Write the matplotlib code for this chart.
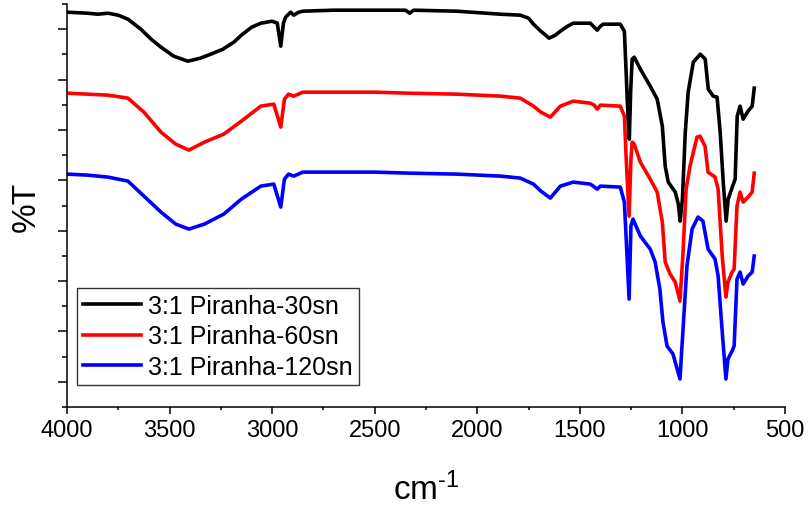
import numpy as np
import matplotlib
matplotlib.use("Agg")
import matplotlib.pyplot as plt
from matplotlib.ticker import MultipleLocator, FixedLocator, NullFormatter

plt.rcParams['font.family'] = ['Liberation Sans', 'DejaVu Sans']
plt.rcParams['mathtext.fontset'] = 'custom'
plt.rcParams['mathtext.rm'] = 'Liberation Sans'
plt.rcParams['mathtext.it'] = 'Liberation Sans:italic'

# FTIR spectra (wavenumber in cm-1, %T in arbitrary offset units)
wn_30 = [4000, 3900, 3850, 3800, 3750, 3703, 3640, 3590, 3542, 3480, 3411, 3350, 3299,
         3240, 3187, 3150, 3100, 3055, 3000, 2975, 2958, 2945, 2934, 2910, 2895, 2870,
         2851, 2700, 2500, 2350, 2330, 2310, 2100, 1887, 1790, 1750, 1726, 1690, 1650,
         1620, 1595, 1560, 1532, 1449, 1425, 1415, 1400, 1386, 1303, 1283, 1274, 1265,
         1259, 1252, 1245, 1235, 1205, 1157, 1123, 1098, 1084, 1069, 1035, 1020, 1011,
         1000, 986, 972, 947, 913, 889, 874, 850, 831, 816, 801, 787, 777, 757, 743,
         733, 719, 704, 680, 660, 650]
t_30 = [395, 394, 393, 394, 392, 388, 378, 368, 360, 351, 346, 349, 353,
        358, 365, 372, 380, 384, 386, 384, 361, 384, 390, 395, 392, 395,
        396, 397, 397, 397, 394, 397, 396, 393, 392, 389, 383, 376, 369,
        372, 376, 381, 384, 384, 379, 377, 381, 383, 383, 376, 333, 288,
        268, 318, 348, 350, 338, 321, 308, 281, 241, 225, 215, 203, 186,
        208, 275, 315, 345, 353, 348, 318, 311, 310, 275, 225, 186, 208, 220, 228,
        291, 301, 288, 296, 301, 319]

wn_60 = [4000, 3900, 3800, 3703, 3625, 3542, 3470, 3406, 3330, 3236, 3150, 3055, 2992,
         2958, 2940, 2920, 2895, 2850, 2700, 2500, 2340, 2100, 1887, 1790, 1726, 1690,
         1644, 1595, 1532, 1449, 1430, 1415, 1400, 1303, 1283, 1274, 1260, 1251, 1245,
         1235, 1205, 1157, 1123, 1098, 1084, 1060, 1035, 1012, 998, 982, 963, 929, 914,
         890, 875, 841, 826, 806, 788, 778, 758, 748, 734, 719, 704, 680, 660, 650]
t_60 = [314, 313, 312, 309, 295, 275, 263, 257, 265, 273, 286, 301, 303,
        280, 308, 313, 311, 315, 315, 315, 314, 313, 311, 309, 301, 295,
        290, 301, 306, 304, 302, 298, 302, 301, 291, 248, 191, 248, 265,
        263, 245, 228, 215, 185, 145, 133, 125, 106, 151, 218, 241, 270, 271,
        261, 235, 230, 218, 151, 110, 125, 135, 138, 201, 215, 205, 210, 215, 234]

wn_120 = [4000, 3900, 3800, 3703, 3625, 3542, 3470, 3406, 3330, 3236, 3150, 3055, 2992,
          2958, 2940, 2920, 2895, 2850, 2700, 2500, 2340, 2100, 1887, 1790, 1726, 1690,
          1644, 1595, 1532, 1449, 1415, 1400, 1303, 1283, 1274, 1260, 1251, 1241, 1205,
          1157, 1133, 1110, 1095, 1075, 1046, 1012, 997, 978, 953, 924, 900, 875, 841,
          826, 807, 788, 778, 758, 748, 734, 719, 704, 680, 660, 650]
t_120 = [233, 232, 230, 226, 211, 195, 183, 178, 183, 193, 208, 221, 223,
         200, 228, 233, 231, 235, 235, 235, 234, 233, 231, 229, 223, 216,
         209, 221, 225, 223, 218, 221, 220, 205, 168, 108, 181, 188, 171,
         158, 145, 118, 85, 61, 53, 28, 78, 141, 178, 190, 186, 158, 148,
         131, 78, 28, 48, 56, 61, 128, 135, 123, 131, 135, 151]

labels = ['3:1 Piranha-30sn', '3:1 Piranha-60sn', '3:1 Piranha-120sn']
colors = ['#000000', '#ff0000', '#0000ff']

fig = plt.figure(figsize=(8.08, 5.06), dpi=100)
ax = fig.add_axes([67 / 808, 98 / 506, 718 / 808, 403 / 506])

for wn, t, lab, c in zip([wn_30, wn_60, wn_120], [t_30, t_60, t_120], labels, colors):
    ax.plot(wn, t, color=c, lw=2.6, label=lab, solid_joinstyle='round')

ax.set_xlim(4000, 500)
ax.set_ylim(0, 403.2)
ax.xaxis.set_major_locator(MultipleLocator(500))
ax.xaxis.set_minor_locator(MultipleLocator(250))
ax.yaxis.set_major_locator(FixedLocator(np.arange(25.2, 403, 50.4)))
ax.yaxis.set_minor_locator(FixedLocator(np.arange(0, 404, 50.4)))
ax.yaxis.set_major_formatter(NullFormatter())

for s in ['top', 'right']:
    ax.spines[s].set_visible(False)
for s in ['left', 'bottom']:
    ax.spines[s].set_linewidth(1.1)

ax.tick_params(axis='x', which='major', direction='out', length=5, width=1.1, labelsize=17, pad=4)
ax.tick_params(axis='x', which='minor', direction='out', length=2.5, width=1.1)
ax.tick_params(axis='y', which='major', direction='out', length=6.5, width=1.1)
ax.tick_params(axis='y', which='minor', direction='out', length=3.5, width=1.1)

ax.set_xlabel(r'cm$^{\text{-1}}$', fontsize=24, labelpad=22)
ax.set_ylabel('%T', fontsize=24, labelpad=8)

leg = ax.legend(loc='lower left', bbox_to_anchor=(0.014, 0.055), borderaxespad=0,
                fontsize=18, frameon=True, fancybox=False, edgecolor='black',
                handlelength=2.3, handletextpad=0.3, labelspacing=0.25, borderpad=0.25)
leg.get_frame().set_linewidth(1.0)

fig.savefig('out.png', dpi=100)
